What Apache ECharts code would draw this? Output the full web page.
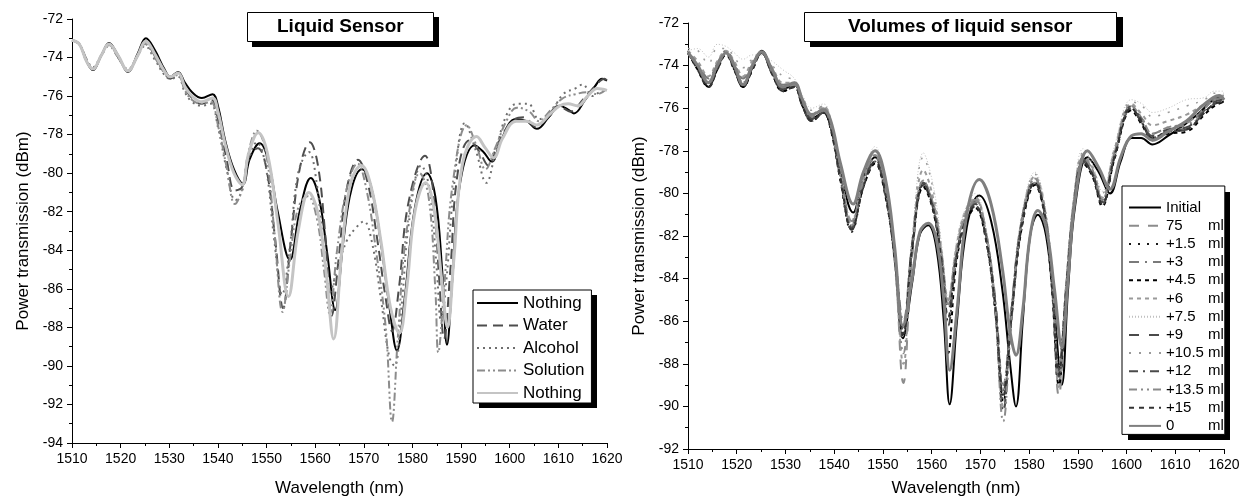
<!DOCTYPE html>
<html>
<head>
<meta charset="utf-8">
<title>Liquid sensor spectra</title>
<script src="https://cdn.jsdelivr.net/npm/echarts@6/dist/echarts.min.js"></script>
<style>
	html, body { margin: 0; padding: 0; background: #fff; }
	#MyChart { width: 1247px; height: 502px; }
</style>
</head>
<body>
<div id="MyChart"></div>
<script>
// left panel: [wavelength nm, power dBm]
var nothingA = [[1510,-73.1],[1511.5,-73.3],[1513,-74.2],[1514.3,-74.65],[1516,-73.9],[1517.6,-73.25],[1519.5,-73.9],[1521.5,-74.75],[1523.5,-73.8],[1525.2,-73.0],[1527,-73.6],[1529,-74.6],[1530.2,-75.0],[1531.8,-74.75],[1533.2,-75.3],[1534.7,-75.8],[1536.7,-76.1],[1538.9,-75.9],[1540,-76.5],[1541.5,-78.3],[1543.3,-79.8],[1545.2,-80.55],[1546.5,-79.3],[1548.6,-78.45],[1550.3,-79.3],[1552.3,-82.0],[1554.8,-84.5],[1556.8,-82.0],[1559.1,-80.25],[1560.8,-81.3],[1562.5,-84.2],[1564.1,-87.1],[1565.8,-83.5],[1567.5,-80.8],[1569.6,-79.8],[1571.5,-80.7],[1573.5,-83.6],[1575.3,-87.0],[1576.8,-89.2],[1578.4,-86.5],[1580.5,-81.8],[1583,-80.0],[1584.7,-81.2],[1586.1,-85.0],[1587.1,-88.9],[1588.2,-85.5],[1589.8,-80.5],[1592.8,-78.55],[1594.6,-78.9],[1596.3,-79.4],[1598.2,-78.3],[1601.2,-77.2],[1603.5,-77.3],[1605.6,-77.7],[1608,-77.1],[1610.3,-76.5],[1612,-76.7],[1613.2,-76.9],[1615.5,-76.2],[1617.5,-75.5],[1619,-75.1],[1620,-75.2]];
var water = [[1510,-73.1],[1511.5,-73.3],[1513,-74.1],[1514.3,-74.6],[1516,-73.9],[1517.6,-73.3],[1519.5,-74.0],[1521.5,-74.7],[1523.5,-73.9],[1525,-73.2],[1527,-73.9],[1529,-74.8],[1530.2,-75.1],[1531.8,-74.9],[1533.2,-75.6],[1534.7,-76.1],[1536.7,-76.4],[1538.7,-76.2],[1540,-77.2],[1541.8,-79.3],[1543.5,-80.9],[1545,-80.7],[1546.3,-79.2],[1548.2,-78.7],[1550,-79.8],[1551.8,-83.5],[1553.4,-87.0],[1555,-83.5],[1556.8,-79.8],[1558.9,-78.4],[1560.5,-79.5],[1562,-83.0],[1563.4,-87.4],[1564.8,-84.5],[1566.5,-80.8],[1568.8,-79.3],[1570.8,-80.5],[1572.8,-83.5],[1574.5,-86.5],[1575.8,-88.2],[1577.2,-86.0],[1579.2,-81.5],[1582.6,-79.1],[1584.2,-80.8],[1585.5,-85.5],[1586.5,-88.6],[1587.8,-85.0],[1589.3,-80.0],[1591.7,-78.3],[1593.8,-78.9],[1595.6,-79.6],[1597.5,-78.5],[1600.5,-77.3],[1603,-77.1],[1605.3,-77.6],[1607.5,-77.2],[1610,-76.5],[1612.5,-76.8],[1615,-76.2],[1617.5,-75.5],[1619.5,-75.1],[1620,-75.2]];
var alcohol = [[1510,-73.1],[1511.5,-73.3],[1513,-74.1],[1514.3,-74.5],[1516,-73.9],[1517.6,-73.4],[1519.5,-74.0],[1521.5,-74.6],[1523.5,-73.9],[1525,-73.4],[1527,-74.1],[1529,-74.9],[1530.2,-75.1],[1531.8,-75.0],[1533.2,-75.8],[1534.7,-76.3],[1536.7,-76.5],[1538.5,-76.4],[1540,-77.6],[1541.8,-79.8],[1543.6,-81.4],[1545,-80.9],[1546.3,-79.3],[1548,-78.4],[1549.8,-79.6],[1551.6,-83.5],[1553.2,-86.3],[1554.8,-83.8],[1556.5,-80.0],[1558.7,-78.9],[1560.3,-80.5],[1561.8,-84.0],[1563,-86.2],[1564.5,-85.0],[1566.5,-83.5],[1568.5,-82.8],[1570,-82.5],[1571.6,-83.5],[1573.5,-86.5],[1575.2,-89.5],[1576.3,-90.0],[1577.8,-86.8],[1579.3,-82.5],[1581.8,-79.6],[1583.5,-80.8],[1585,-85.0],[1585.9,-87.7],[1587,-85.5],[1588.6,-80.5],[1590.8,-77.4],[1593,-78.8],[1595.2,-80.5],[1597,-79.0],[1599.3,-77.0],[1601.5,-76.4],[1603.8,-76.4],[1606,-77.2],[1608.5,-76.8],[1611,-75.9],[1613.5,-75.6],[1615,-75.4],[1617,-76.0],[1618.5,-75.8],[1620,-75.7]];
var solution = [[1510,-73.1],[1511.5,-73.3],[1513,-74.2],[1514.3,-74.6],[1516,-73.9],[1517.6,-73.35],[1519.5,-74.0],[1521.5,-74.65],[1523.5,-73.9],[1525,-73.3],[1527,-74.0],[1529,-74.8],[1530.2,-75.0],[1531.8,-74.9],[1533.2,-75.7],[1534.7,-76.2],[1536.7,-76.4],[1538.5,-76.3],[1540,-77.5],[1541.8,-79.7],[1543.5,-81.6],[1545,-80.8],[1546.3,-78.9],[1548,-77.8],[1549.8,-78.8],[1551.6,-83.0],[1553.3,-87.2],[1554.8,-84.5],[1556.5,-81.8],[1558.5,-81.2],[1560.3,-82.3],[1561.8,-85.0],[1563,-87.3],[1564.5,-84.0],[1566.5,-80.8],[1568.7,-79.5],[1570.5,-80.8],[1572.5,-84.0],[1574.5,-88.0],[1575.8,-92.9],[1577,-88.5],[1578.8,-83.0],[1581.5,-80.0],[1583.3,-81.2],[1584.7,-86.0],[1585.3,-89.3],[1586.5,-86.0],[1588.3,-80.5],[1591.2,-77.5],[1593.2,-78.6],[1595,-79.8],[1597,-78.7],[1599.5,-77.2],[1601.5,-76.6],[1604,-76.8],[1606,-77.3],[1608.5,-76.7],[1611,-76.1],[1613.5,-75.9],[1616,-75.8],[1618,-75.9],[1620,-75.6]];
var nothingB = [[1510,-73.1],[1511.5,-73.3],[1513,-74.2],[1514.3,-74.6],[1516,-73.9],[1517.6,-73.3],[1519.5,-73.9],[1521.5,-74.7],[1523.5,-73.9],[1525.2,-73.15],[1527,-73.8],[1529,-74.7],[1530.2,-75.0],[1531.8,-74.8],[1533.2,-75.5],[1534.7,-76.0],[1536.7,-76.3],[1538.9,-76.1],[1540,-76.8],[1541.5,-78.5],[1543.3,-80.0],[1545,-80.6],[1546.3,-79.0],[1548.3,-77.9],[1550.2,-79.0],[1552.3,-82.5],[1554.5,-86.4],[1556.5,-83.0],[1558.7,-81.0],[1560.5,-82.0],[1562.2,-85.0],[1563.8,-88.6],[1565.5,-84.0],[1567.3,-80.5],[1569.5,-79.6],[1571.5,-80.7],[1573.5,-83.5],[1575.5,-87.0],[1577.3,-88.3],[1578.8,-86.0],[1580.5,-82.0],[1582.7,-80.5],[1584.4,-81.8],[1586,-85.5],[1587.2,-88.0],[1588.5,-84.5],[1590.3,-79.5],[1593.2,-78.1],[1595,-78.7],[1596.7,-79.2],[1598.5,-78.2],[1601.3,-77.3],[1603.5,-77.3],[1605.6,-77.5],[1608,-77.0],[1610.3,-76.5],[1612,-76.4],[1614,-76.5],[1616,-76.0],[1618,-75.6],[1620,-75.7]];

// right panel: reference runs (Initial, 0 ml) share baseX
var baseX = [1510,1512,1514.2,1516,1517.8,1519.5,1521.3,1523.2,1525.1,1527.3,1529.5,1531.8,1533.5,1535.4,1537.8,1539.3,1541.3,1543.9,1546,1548.4,1550.5,1552.4,1554.1,1556,1557.6,1559.3,1561,1562.5,1563.7,1565.2,1567.2,1569.8,1572.2,1574.5,1576.1,1577.3,1578.7,1580.2,1581.8,1583.5,1585.2,1586.7,1588,1589.5,1592,1594.3,1596.6,1598.8,1601,1603,1605.3,1608.5,1612.3,1615,1617.8,1619,1620];
var initialY = [-73.4,-74.1,-75.0,-74.1,-73.4,-74.1,-75.0,-74.1,-73.3,-74.3,-75.1,-74.9,-75.7,-76.5,-76.2,-76.9,-79.0,-80.9,-79.2,-78.3,-79.6,-83.0,-86.8,-84.2,-81.9,-81.5,-82.6,-86.0,-89.9,-86.0,-81.6,-80.1,-81.3,-84.5,-88.0,-90.0,-86.0,-82.0,-81.0,-82.0,-85.5,-89.0,-84.5,-80.5,-78.3,-79.0,-80.0,-78.5,-77.4,-77.4,-77.7,-77.3,-76.7,-76.2,-75.6,-75.5,-75.6];
var zeroY = [-73.4,-74.0,-74.8,-74.0,-73.4,-74.0,-74.9,-74.0,-73.35,-74.2,-75.0,-74.8,-75.6,-76.3,-76.1,-76.6,-78.6,-80.5,-79.0,-78.0,-79.3,-82.5,-86.2,-84.0,-81.8,-81.4,-82.2,-85.0,-88.3,-85.5,-81.0,-79.35,-80.5,-83.5,-86.5,-87.6,-85.5,-82.0,-80.8,-81.6,-84.5,-87.2,-84.0,-80.2,-78.0,-78.8,-79.8,-78.3,-77.3,-77.2,-77.5,-77.1,-76.6,-76.0,-75.5,-75.4,-75.6];

// right panel: added volumes share volX
var volX = [1510,1512,1514.2,1516,1517.8,1519.5,1521.3,1523.2,1525.1,1527.3,1529.5,1531.8,1533.5,1535.4,1537.8,1539.3,1541.3,1543.6,1546,1548.4,1550.4,1552.4,1554.2,1556,1558.3,1560.3,1562,1563.4,1565,1566.8,1569,1571,1573,1574.7,1576.4,1578.5,1581.2,1583,1584.7,1586.1,1587.6,1589.2,1591.1,1593,1595,1597.5,1601,1603.2,1605.3,1608.5,1612.3,1616,1618,1620];
var v75 = [-73.4,-74.0,-74.8,-74.0,-73.4,-74.0,-74.8,-74.0,-73.4,-74.3,-75.0,-74.9,-75.7,-76.4,-76.0,-76.7,-79.0,-81.3,-79.4,-78.2,-79.6,-82.9,-88.9,-83.0,-79.6,-80.4,-82.8,-85.2,-82.8,-81.0,-80.3,-81.6,-85.2,-89.6,-85.8,-81.5,-79.5,-80.7,-84.5,-89.5,-84.8,-80.6,-78.5,-79.1,-80.3,-78.3,-76.0,-76.7,-77.4,-77.1,-76.9,-76.2,-75.8,-75.6];
var v1_5 = [-73.3,-74.2,-75.0,-74.2,-73.4,-74.2,-75.0,-74.2,-73.4,-74.4,-75.2,-75.0,-75.9,-76.6,-76.2,-76.9,-79.4,-81.8,-79.7,-78.5,-79.9,-83.0,-86.8,-82.7,-79.6,-80.7,-83.2,-86.0,-83.2,-81.4,-80.6,-81.9,-85.3,-89.6,-85.6,-81.4,-79.5,-80.7,-84.2,-88.0,-84.5,-80.6,-78.5,-79.1,-80.5,-78.3,-76.0,-76.7,-77.4,-77.1,-77.0,-76.2,-75.8,-75.7];
var v3 = [-73.4,-73.9,-74.6,-73.9,-73.3,-73.9,-74.6,-73.9,-73.4,-74.2,-74.9,-74.8,-75.7,-76.4,-76.0,-76.7,-79.0,-81.4,-79.5,-78.3,-79.7,-82.7,-86.0,-82.4,-79.4,-80.5,-82.8,-85.0,-82.8,-81.2,-80.4,-81.7,-84.8,-89.0,-85.3,-81.2,-79.3,-80.5,-83.8,-88.5,-84.4,-80.4,-78.3,-78.9,-80.3,-78.1,-75.9,-76.5,-77.2,-76.9,-76.8,-76.0,-75.6,-75.5];
var v4_5 = [-73.4,-74.2,-75.0,-74.2,-73.5,-74.2,-75.0,-74.2,-73.4,-74.4,-75.2,-75.0,-75.9,-76.6,-76.2,-77.0,-79.4,-81.7,-79.7,-78.6,-80.0,-83.0,-86.6,-82.6,-79.7,-80.8,-83.4,-87.5,-83.4,-81.5,-80.7,-82.0,-85.4,-89.8,-85.8,-81.6,-79.6,-80.8,-84.5,-89.0,-84.8,-80.7,-78.6,-79.2,-80.6,-78.4,-76.1,-76.8,-77.5,-77.2,-77.1,-76.3,-75.9,-75.7];
var v6 = [-73.3,-73.8,-74.5,-73.8,-73.3,-73.8,-74.5,-73.8,-73.4,-74.1,-74.8,-74.8,-75.7,-76.3,-75.9,-76.6,-79.0,-81.5,-79.3,-78.0,-79.5,-83.2,-88.0,-82.5,-78.9,-80.2,-82.7,-85.0,-82.6,-80.9,-80.2,-81.6,-85.0,-90.0,-85.5,-81.2,-79.2,-80.4,-84.0,-89.2,-84.3,-80.3,-78.2,-78.8,-80.2,-78.0,-75.8,-76.3,-76.8,-76.6,-76.3,-75.8,-75.5,-75.4];
var v7_5 = [-73.3,-73.2,-73.6,-73.0,-73.1,-73.4,-73.7,-73.5,-73.5,-73.8,-74.2,-74.6,-75.4,-76.0,-75.8,-76.5,-78.8,-81.2,-79.2,-77.8,-79.2,-82.4,-86.0,-82.0,-78.1,-79.6,-82.3,-84.8,-82.4,-80.8,-80.0,-81.5,-84.8,-89.0,-85.2,-81.0,-79.0,-80.2,-83.6,-88.2,-84.0,-80.0,-77.9,-78.6,-79.9,-77.8,-75.6,-75.8,-76.2,-76.0,-75.6,-75.5,-75.2,-75.2];
var v9 = [-73.4,-74.1,-74.9,-74.1,-73.4,-74.1,-74.9,-74.1,-73.4,-74.3,-75.1,-74.9,-75.8,-76.5,-76.1,-76.8,-79.2,-81.6,-79.6,-78.4,-79.8,-82.8,-86.5,-82.5,-79.5,-80.6,-83.0,-85.5,-83.0,-81.3,-80.5,-81.8,-85.0,-89.3,-85.5,-81.3,-79.4,-80.6,-84.0,-88.3,-84.5,-80.5,-78.4,-79.0,-80.4,-78.2,-75.9,-76.6,-77.3,-77.0,-76.9,-76.1,-75.7,-75.6];
var v10_5 = [-73.2,-73.3,-73.9,-73.2,-73.2,-73.6,-74.1,-73.7,-73.5,-74.0,-74.5,-74.7,-75.5,-76.1,-75.9,-76.6,-79.0,-81.3,-79.3,-78.0,-79.4,-82.6,-86.3,-82.2,-78.3,-79.8,-82.5,-85.0,-82.6,-81.0,-80.2,-81.6,-85.0,-89.4,-85.4,-81.1,-79.1,-80.3,-83.8,-88.4,-84.2,-80.2,-78.1,-78.7,-80.0,-77.9,-75.7,-75.9,-76.4,-76.2,-75.9,-75.6,-75.3,-75.3];
var v12 = [-73.4,-74.1,-74.9,-74.1,-73.4,-74.1,-74.9,-74.1,-73.4,-74.4,-75.1,-75.0,-75.9,-76.6,-76.2,-76.9,-79.3,-81.7,-79.6,-78.5,-79.9,-82.9,-86.4,-82.4,-79.5,-80.7,-83.2,-86.2,-83.1,-81.4,-80.6,-81.9,-85.4,-90.2,-85.8,-81.4,-79.5,-80.7,-84.2,-88.6,-84.6,-80.6,-78.5,-79.1,-80.5,-78.3,-76.0,-76.7,-77.4,-77.1,-77.0,-76.2,-75.8,-75.7];
var v13_5 = [-73.4,-74.0,-74.8,-74.0,-73.4,-74.0,-74.8,-74.0,-73.4,-74.3,-75.0,-74.9,-75.7,-76.4,-76.0,-76.8,-79.2,-81.5,-79.4,-78.2,-79.6,-83.0,-87.5,-82.8,-79.4,-80.5,-82.9,-85.3,-82.9,-81.1,-80.3,-81.7,-85.3,-90.7,-85.9,-81.4,-79.3,-80.5,-84.0,-88.7,-84.4,-80.4,-78.3,-78.9,-80.3,-78.1,-75.9,-76.5,-77.2,-76.9,-76.7,-76.0,-75.6,-75.5];
var v15 = [-73.4,-74.2,-75.0,-74.2,-73.4,-74.2,-75.0,-74.2,-73.4,-74.4,-75.2,-75.0,-75.9,-76.6,-76.2,-76.9,-79.3,-81.7,-79.7,-78.5,-79.9,-83.0,-86.6,-82.6,-79.6,-80.7,-83.1,-85.8,-83.1,-81.4,-80.6,-81.9,-85.2,-89.5,-85.7,-81.5,-79.5,-80.7,-84.1,-88.5,-84.6,-80.6,-78.5,-79.1,-80.5,-78.3,-76.0,-76.7,-77.4,-77.1,-77.0,-76.2,-75.8,-75.7];

var font = "'Liberation Sans', Arial, sans-serif";

function pairs(xs, ys) {
	var out = [];
	for (var i = 0; i < xs.length; i++) out.push([xs[i], ys[i]]);
	return out;
}

function line(name, data, color, width, dash, idx) {
	return {
		name: name,
		type: 'line',
		xAxisIndex: idx,
		yAxisIndex: idx,
		data: data,
		smooth: 0.4,
		symbol: 'none',
		showSymbol: false,
		lineStyle: { color: color, width: width, type: dash },
		itemStyle: { color: color }
	};
}

function xAxis(gi, gap) {
	return {
		type: 'value', gridIndex: gi, min: 1510, max: 1620, interval: 10,
		name: 'Wavelength (nm)', nameLocation: 'middle', nameGap: gap,
		nameTextStyle: { fontFamily: font, fontSize: 17, color: '#000' },
		axisLine: { show: true, onZero: false, lineStyle: { color: '#000', width: 1 } },
		axisTick: { show: true, length: 5, lineStyle: { color: '#000' } },
		minorTick: { show: true, splitNumber: 2, length: 3, lineStyle: { color: '#000' } },
		splitLine: { show: false },
		axisLabel: {
			fontFamily: font, fontSize: 14, color: '#000', margin: 9,
			formatter: function(v) { return String(v); }
		}
	};
}

function yAxis(gi, min, gap) {
	return {
		type: 'value', gridIndex: gi, min: min, max: -72, interval: 2,
		name: 'Power transmission (dBm)', nameLocation: 'middle', nameGap: gap,
		nameTextStyle: { fontFamily: font, fontSize: 17, color: '#000' },
		axisLine: { show: true, onZero: false, lineStyle: { color: '#000', width: 1 } },
		axisTick: { show: true, length: 5, lineStyle: { color: '#000' } },
		minorTick: { show: true, splitNumber: 2, length: 3, lineStyle: { color: '#000' } },
		splitLine: { show: false },
		axisLabel: { fontFamily: font, fontSize: 14, color: '#000', margin: 9 }
	};
}

function boxTitle(text, left, padX) {
	return {
		text: text, left: left, top: 12,
		padding: [5, padX, 5, padX],
		backgroundColor: '#fff', borderColor: '#000', borderWidth: 1,
		textStyle: { fontFamily: font, fontSize: 19, fontWeight: 'bold', color: '#000', lineHeight: 20 }
	};
}

// solid black drop shadows behind the title and legend boxes
function shadowBox(x, y, w, h) {
	return { type: 'rect', z: 1, silent: true, shape: { x: x, y: y, width: w, height: h }, style: { fill: '#000' } };
}

var leftSeries = [
	line('Nothing', nothingA, '#000', 2, 'solid', 0),
	line('Water', water, '#4d4d4d', 2, [10, 6], 0),
	line('Alcohol', alcohol, '#6e6e6e', 2, [2, 4], 0),
	line('Solution', solution, '#8c8c8c', 2, [8, 3, 2, 3, 2, 3], 0),
	line('Nothing2', nothingB, '#c4c4c4', 3, 'solid', 0)
];

var rightSeries = [
	line('Initial', pairs(baseX, initialY), '#000', 2, 'solid', 1),
	line('75 ml', pairs(volX, v75), '#8c8c8c', 2, [10, 9], 1),
	line('+1.5 ml', pairs(volX, v1_5), '#1a1a1a', 2, [2, 7], 1),
	line('+3 ml', pairs(volX, v3), '#7a7a7a', 2, [10, 6, 2, 6], 1),
	line('+4.5 ml', pairs(volX, v4_5), '#000', 2, [4, 4], 1),
	line('+6 ml', pairs(volX, v6), '#9a9a9a', 2, [4, 4], 1),
	line('+7.5 ml', pairs(volX, v7_5), '#c0c0c0', 1, [1, 2], 1),
	line('+9 ml', pairs(volX, v9), '#4a4a4a', 2, [10, 10], 1),
	line('+10.5 ml', pairs(volX, v10_5), '#9a9a9a', 1.5, [2, 8], 1),
	line('+12 ml', pairs(volX, v12), '#4a4a4a', 2, [9, 5, 2, 5], 1),
	line('+13.5 ml', pairs(volX, v13_5), '#8a8a8a', 2, [8, 4, 2, 4, 2, 4], 1),
	line('+15 ml', pairs(volX, v15), '#333', 2, [5, 5], 1),
	line('0 ml', pairs(baseX, zeroY), '#7f7f7f', 3, 'solid', 1)
];

var myChart1 = echarts.init(document.getElementById('MyChart'));
myChart1.setOption({
	animation: false,
	backgroundColor: '#fff',
	title: [
		boxTitle('Liquid Sensor', 247, 30),
		boxTitle('Volumes of liquid sensor', 804, 44)
	],
	graphic: [
		shadowBox(252, 17, 187, 30),
		shadowBox(810, 17, 313, 30),
		shadowBox(479, 295, 118, 113),
		shadowBox(1128, 192, 102, 248)
	],
	grid: [
		{ left: 72, right: 640, top: 19, bottom: 59 },
		{ left: 688, right: 23, top: 23, bottom: 52 }
	],
	xAxis: [xAxis(0, 37), xAxis(1, 31)],
	yAxis: [yAxis(0, -94, 40), yAxis(1, -92, 40)],
	legend: [{
		orient: 'vertical', left: 473, top: 290,
		padding: [4, 7, 1, 3], itemGap: 4.5, itemWidth: 41, itemHeight: 14,
		backgroundColor: '#fff', borderColor: '#000', borderWidth: 1,
		itemStyle: { opacity: 0 },
		textStyle: { fontFamily: font, fontSize: 17, color: '#000', lineHeight: 18 },
		data: ['Nothing', 'Water', 'Alcohol', 'Solution', 'Nothing2'],
		formatter: function(name) {
			return name === 'Nothing2' ? 'Nothing' : name;
		}
	}, {
		orient: 'vertical', left: 1122, top: 186,
		padding: [14, 1, 1, 6], itemGap: 3.2, itemWidth: 32, itemHeight: 14,
		backgroundColor: '#fff', borderColor: '#000', borderWidth: 1,
		itemStyle: { opacity: 0 },
		textStyle: {
			fontFamily: font, fontSize: 15, color: '#000', lineHeight: 15,
			rich: { n: { width: 42, fontFamily: font, fontSize: 15, lineHeight: 15 } }
		},
		data: ['Initial', '75 ml', '+1.5 ml', '+3 ml', '+4.5 ml', '+6 ml', '+7.5 ml', '+9 ml', '+10.5 ml', '+12 ml', '+13.5 ml', '+15 ml', '0 ml'],
		formatter: function(name) {
			if (name.indexOf(' ml') < 0) return name;
			return '{n|' + name.replace(' ml', '') + '}ml';
		}
	}],
	series: leftSeries.concat(rightSeries)
});
</script>
</body>
</html>
